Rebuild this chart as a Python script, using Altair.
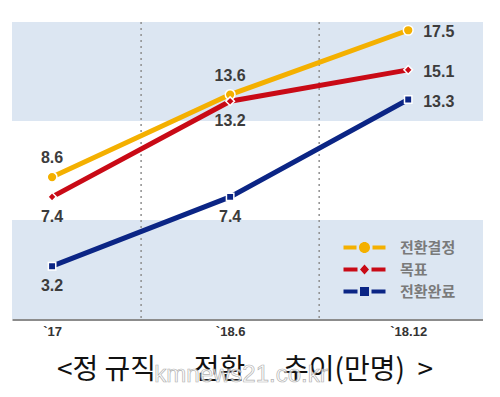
import json
import altair as alt
import pandas as pd

# ---- data ----
periods = ["`17", "`18.6", "`18.12"]
series_names = ["전환결정", "목표", "전환완료"]
decided = [8.6, 13.6, 17.5]
target = [7.4, 13.2, 15.1]
completed = [3.2, 7.4, 13.3]
label_pos = {
    "전환결정": ["above", "above", "right"],
    "목표": ["below", "below", "right"],
    "전환완료": ["below", "below", "right"],
}
band_starts = [0, 12]
band_size = 6
divider_positions = [0.5, 1.5]
NB = "\u00a0"
title_text = "<정" + NB + "규직" + NB * 6 + "전환" + NB * 6 + "추이(만명)" + NB * 2 + ">"
watermark_text = "kmnews21.co.kr"

colors = ["#F4B000", "#C90A16", "#0B2585"]
point_shapes = ["circle", "diamond", "square"]
point_sizes = [95, 55, 70]
legend_paths = [
    "M-2.1,-0.2H-0.8V0.2H-2.1Z M0.8,-0.2H2.1V0.2H0.8Z M0.55,0A0.55,0.55 0 1,1 -0.55,0A0.55,0.55 0 1,1 0.55,0Z",
    "M-2.1,-0.2H-0.7V0.2H-2.1Z M0.7,-0.2H2.1V0.2H0.7Z M0,-0.5L0.45,0L0,0.5L-0.45,0Z",
    "M-2.1,-0.2H-0.7V0.2H-2.1Z M0.7,-0.2H2.1V0.2H0.7Z M-0.45,-0.45H0.45V0.45H-0.45Z",
]

rows = []
for name, vals in zip(series_names, [decided, target, completed]):
    for i, v in enumerate(vals):
        rows.append({"x": i, "period": periods[i], "value": v,
                     "series": name, "pos": label_pos[name][i]})
df = pd.DataFrame(rows)
bands = pd.DataFrame({"y0": band_starts, "y1": [b + band_size for b in band_starts]})
dividers = pd.DataFrame({"x": divider_positions})
legend_df = pd.DataFrame({"series": series_names})

W, H = 471, 297
xscale = alt.Scale(domain=[-0.225, 2.42], nice=False, zero=False)
yscale = alt.Scale(domain=[0, 18], nice=False, zero=True)
color_scale = alt.Scale(domain=series_names, range=colors)
label_expr = json.dumps(periods) + "[datum.value]"

x_axis = alt.Axis(values=[0, 1, 2], labelExpr=label_expr, title=None, grid=False,
                  ticks=False, domainColor="#8c8c8c", domainWidth=3,
                  labelFont="Liberation Sans", labelFontWeight="bold",
                  labelFontSize=13, labelColor="#333333", labelPadding=6)

band_layer = alt.Chart(bands).mark_rect(color="#DCE6F2").encode(
    x=alt.value(0), x2=alt.value(W),
    y=alt.Y("y0:Q", scale=yscale, axis=None), y2="y1:Q")

divider_layer = alt.Chart(dividers).mark_rule(
    color="#8f8f8f", strokeDash=[2, 4], strokeWidth=1.5).encode(
    x=alt.X("x:Q", scale=xscale, axis=x_axis), y=alt.value(0), y2=alt.value(H))

base = alt.Chart(df).encode(
    x=alt.X("x:Q", scale=xscale, axis=x_axis),
    y=alt.Y("value:Q", scale=yscale, axis=None),
)

line_layer = base.mark_line(strokeWidth=5).encode(
    color=alt.Color("series:N", scale=color_scale, legend=None),
    detail="series:N", order="x:Q")

point_layer = base.mark_point(filled=True, opacity=1, stroke="white",
                              strokeWidth=1.5).encode(
    color=alt.Color("series:N", scale=color_scale, legend=None),
    shape=alt.Shape("series:N", scale=alt.Scale(domain=series_names, range=point_shapes), legend=None),
    size=alt.Size("series:N", scale=alt.Scale(domain=series_names, range=point_sizes), legend=None))

txt = dict(font="Liberation Sans", fontSize=16, fontWeight="bold", color="#3c3c3c")
above = base.transform_filter("datum.pos == 'above'").mark_text(dy=-19, **txt).encode(
    text=alt.Text("value:Q", format=".1f"))
below = base.transform_filter("datum.pos == 'below'").mark_text(dy=20, **txt).encode(
    text=alt.Text("value:Q", format=".1f"))
right = base.transform_filter("datum.pos == 'right'").mark_text(dx=15, dy=2, align="left", **txt).encode(
    text=alt.Text("value:Q", format=".1f"))

leg = alt.Legend(orient="none", legendX=342, legendY=215, title=None,
                 symbolSize=400, symbolStrokeColor="white", symbolStrokeWidth=1,
                 symbolOpacity=1, labelOffset=25, labelFontSize=15,
                 labelFont="Noto Sans CJK KR", labelFontWeight="bold",
                 labelColor="#7a7a7a", rowPadding=3, padding=0)
legend_layer = alt.Chart(legend_df).mark_point(filled=True, opacity=0).encode(
    x=alt.value(W / 2), y=alt.value(H / 2),
    color=alt.Color("series:N", scale=color_scale, legend=leg, sort=series_names),
    shape=alt.Shape("series:N", scale=alt.Scale(domain=series_names, range=legend_paths),
                    legend=leg, sort=series_names))

title_layer = alt.Chart(pd.DataFrame({"t": [title_text]})).mark_text(
    font="Noto Sans CJK KR", fontSize=28, fontWeight="normal", color="#111111",
    align="center", baseline="middle").encode(
    x=alt.value(233), y=alt.value(349), text="t:N")

wm = alt.Chart(pd.DataFrame({"t": [watermark_text]})).mark_text(
    font="Liberation Sans", fontSize=24, fill="white", stroke="#a0a0a0",
    strokeWidth=0.7, opacity=0.8).encode(
    x=alt.value(229), y=alt.value(353), text="t:N")

chart = alt.layer(band_layer, divider_layer, line_layer, point_layer,
                  above, below, right, legend_layer, title_layer, wm).resolve_scale(
    color="independent", shape="independent", size="independent"
).properties(
    width=W, height=H,
    padding={"left": 4, "top": 12, "right": 0, "bottom": 0},
).configure_view(strokeWidth=0)

chart.save("out.html", embed_options={"renderer": "svg", "actions": False})
